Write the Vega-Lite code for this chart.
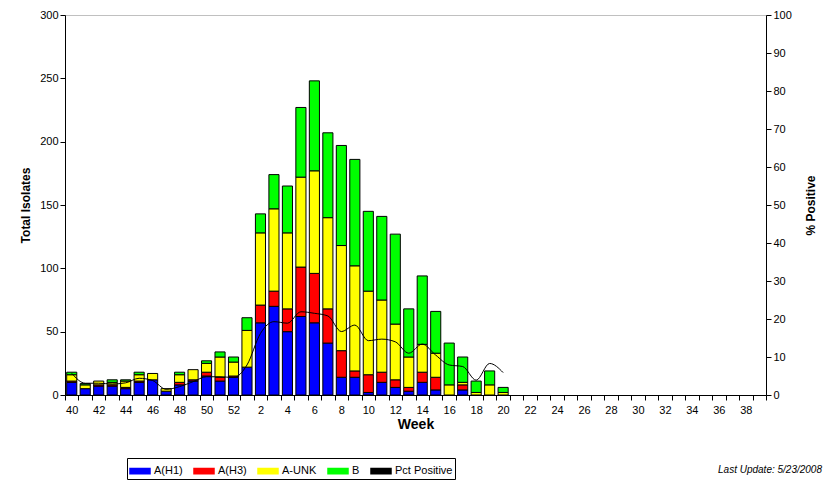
{
  "$schema": "https://vega.github.io/schema/vega-lite/v6.json",
  "width": 701,
  "height": 380,
  "autosize": {"type": "none"},
  "padding": {"left": 65, "top": 15, "right": 65, "bottom": 93},
  "background": "white",
  "title": {"text": "Last Update: 5/23/2008", "orient": "bottom", "anchor": "end", "frame": "group", "fontSize": 10, "fontStyle": "italic", "fontWeight": "normal", "font": "Liberation Sans", "color": "black", "dx": 56, "offset": -15},
  "datasets": {
    "bars": [
      {"week":"40","type":"A(H1)","n":10},{"week":"40","type":"A(H3)","n":1},{"week":"40","type":"A-UNK","n":5},{"week":"40","type":"B","n":2},
      {"week":"41","type":"A(H1)","n":5},{"week":"41","type":"A-UNK","n":3},{"week":"41","type":"B","n":1},
      {"week":"42","type":"A(H1)","n":7},{"week":"42","type":"A(H3)","n":1},{"week":"42","type":"A-UNK","n":3},
      {"week":"43","type":"A(H1)","n":7},{"week":"43","type":"A(H3)","n":1},{"week":"43","type":"A-UNK","n":2},{"week":"43","type":"B","n":2},
      {"week":"44","type":"A(H1)","n":5},{"week":"44","type":"A(H3)","n":1},{"week":"44","type":"A-UNK","n":5},{"week":"44","type":"B","n":1},
      {"week":"45","type":"A(H1)","n":10},{"week":"45","type":"A(H3)","n":1},{"week":"45","type":"A-UNK","n":5},{"week":"45","type":"B","n":2},
      {"week":"46","type":"A(H1)","n":12},{"week":"46","type":"A-UNK","n":5},
      {"week":"47","type":"A(H1)","n":3},{"week":"47","type":"A-UNK","n":2},
      {"week":"48","type":"A(H1)","n":8},{"week":"48","type":"A(H3)","n":2},{"week":"48","type":"A-UNK","n":6},{"week":"48","type":"B","n":2},
      {"week":"49","type":"A(H1)","n":11},{"week":"49","type":"A(H3)","n":1},{"week":"49","type":"A-UNK","n":8},
      {"week":"50","type":"A(H1)","n":15},{"week":"50","type":"A(H3)","n":3},{"week":"50","type":"A-UNK","n":7},{"week":"50","type":"B","n":2},
      {"week":"51","type":"A(H1)","n":11},{"week":"51","type":"A(H3)","n":3},{"week":"51","type":"A-UNK","n":16},{"week":"51","type":"B","n":4},
      {"week":"52","type":"A(H1)","n":14},{"week":"52","type":"A(H3)","n":1},{"week":"52","type":"A-UNK","n":11},{"week":"52","type":"B","n":4},
      {"week":"1","type":"A(H1)","n":22},{"week":"1","type":"A-UNK","n":29},{"week":"1","type":"B","n":10},
      {"week":"2","type":"A(H1)","n":57},{"week":"2","type":"A(H3)","n":14},{"week":"2","type":"A-UNK","n":57},{"week":"2","type":"B","n":15},
      {"week":"3","type":"A(H1)","n":70},{"week":"3","type":"A(H3)","n":12},{"week":"3","type":"A-UNK","n":65},{"week":"3","type":"B","n":27},
      {"week":"4","type":"A(H1)","n":50},{"week":"4","type":"A(H3)","n":18},{"week":"4","type":"A-UNK","n":60},{"week":"4","type":"B","n":37},
      {"week":"5","type":"A(H1)","n":62},{"week":"5","type":"A(H3)","n":39},{"week":"5","type":"A-UNK","n":71},{"week":"5","type":"B","n":55},
      {"week":"6","type":"A(H1)","n":57},{"week":"6","type":"A(H3)","n":39},{"week":"6","type":"A-UNK","n":81},{"week":"6","type":"B","n":71},
      {"week":"7","type":"A(H1)","n":41},{"week":"7","type":"A(H3)","n":27},{"week":"7","type":"A-UNK","n":72},{"week":"7","type":"B","n":67},
      {"week":"8","type":"A(H1)","n":14},{"week":"8","type":"A(H3)","n":21},{"week":"8","type":"A-UNK","n":83},{"week":"8","type":"B","n":79},
      {"week":"9","type":"A(H1)","n":14},{"week":"9","type":"A(H3)","n":5},{"week":"9","type":"A-UNK","n":83},{"week":"9","type":"B","n":84},
      {"week":"10","type":"A(H1)","n":2},{"week":"10","type":"A(H3)","n":14},{"week":"10","type":"A-UNK","n":66},{"week":"10","type":"B","n":63},
      {"week":"11","type":"A(H1)","n":10},{"week":"11","type":"A(H3)","n":8},{"week":"11","type":"A-UNK","n":57},{"week":"11","type":"B","n":66},
      {"week":"12","type":"A(H1)","n":6},{"week":"12","type":"A(H3)","n":6},{"week":"12","type":"A-UNK","n":44},{"week":"12","type":"B","n":71},
      {"week":"13","type":"A(H1)","n":3},{"week":"13","type":"A(H3)","n":3},{"week":"13","type":"A-UNK","n":24},{"week":"13","type":"B","n":38},
      {"week":"14","type":"A(H1)","n":10},{"week":"14","type":"A(H3)","n":8},{"week":"14","type":"A-UNK","n":22},{"week":"14","type":"B","n":54},
      {"week":"15","type":"A(H1)","n":4},{"week":"15","type":"A(H3)","n":10},{"week":"15","type":"A-UNK","n":19},{"week":"15","type":"B","n":33},
      {"week":"16","type":"A-UNK","n":8},{"week":"16","type":"B","n":33},
      {"week":"17","type":"A(H1)","n":4},{"week":"17","type":"A(H3)","n":4},{"week":"17","type":"A-UNK","n":2},{"week":"17","type":"B","n":20},
      {"week":"18","type":"A-UNK","n":2},{"week":"18","type":"B","n":9},
      {"week":"19","type":"A-UNK","n":8},{"week":"19","type":"B","n":11},
      {"week":"20","type":"A-UNK","n":2},{"week":"20","type":"B","n":4}
    ],
    "pct": [
      {"week":"40","pct":5.7},{"week":"41","pct":3.1},{"week":"42","pct":3.1},{"week":"43","pct":2.9},{"week":"44","pct":3.2},
      {"week":"45","pct":4.4},{"week":"46","pct":3.8},{"week":"47","pct":1.5},{"week":"48","pct":2.2},{"week":"49","pct":3.5},
      {"week":"50","pct":4.8},{"week":"51","pct":4.8},{"week":"52","pct":4.6},{"week":"1","pct":7.9},{"week":"2","pct":16.2},
      {"week":"3","pct":19.3},{"week":"4","pct":18.9},{"week":"5","pct":21.9},{"week":"6","pct":21.5},{"week":"7","pct":20.8},
      {"week":"8","pct":16.7},{"week":"9","pct":18.4},{"week":"10","pct":14.3},{"week":"11","pct":14.7},{"week":"12","pct":14.0},
      {"week":"13","pct":11.0},{"week":"14","pct":13.4},{"week":"15","pct":10.5},{"week":"16","pct":7.9},{"week":"17","pct":7.5},
      {"week":"18","pct":3.9},{"week":"19","pct":8.3},{"week":"20","pct":5.9}
    ]
  },
  "encoding": {
    "x": {
      "field": "week", "type": "nominal",
      "scale": {"type": "band", "paddingInner": 0, "paddingOuter": 0,
        "domain": ["40","41","42","43","44","45","46","47","48","49","50","51","52","1","2","3","4","5","6","7","8","9","10","11","12","13","14","15","16","17","18","19","20","21","22","23","24","25","26","27","28","29","30","31","32","33","34","35","36","37","38","39"]},
      "axis": {"title": "Week", "titleFontSize": 14, "titlePadding": 2, "labelAngle": 0, "tickBand": "extent", "labelExpr": "parseInt(datum.value) % 2 == 0 ? datum.value : ''", "labelPadding": 4}
    }
  },
  "layer": [
    {
      "data": {"name": "bars"},
      "mark": {"type": "bar", "width": {"band": 0.75}, "stroke": "black", "strokeWidth": 1},
      "encoding": {
        "y": {"field": "n", "type": "quantitative", "stack": "zero",
          "scale": {"domain": [0, 300], "nice": false},
          "axis": {"title": "Total Isolates", "values": [0,50,100,150,200,250,300], "titlePadding": 7}},
        "color": {"field": "type", "type": "nominal",
          "scale": {"domain": ["A(H1)","A(H3)","A-UNK","B","Pct Positive"], "range": ["#0000FF","#FF0000","#FFFF00","#00FF00","#000000"]},
          "legend": {
            "title": null, "orient": "none", "direction": "horizontal", "columns": 5,
            "legendX": 62, "legendY": 443,
            "strokeColor": "black", "padding": 2, "fillColor": "white",
            "columnPadding": 8, "symbolSize": 400, "labelFontSize": 11, "labelOffset": 3, "labelColor": "black",
            "symbolType": "M-1,-0.26H1V0.26H-1Z"
          }},
        "order": {"field": "type", "sort": "ascending"}
      }
    },
    {
      "data": {"name": "pct"},
      "mark": {"type": "line", "interpolate": "monotone", "strokeWidth": 1},
      "encoding": {
        "y": {"field": "pct", "type": "quantitative",
          "scale": {"domain": [0, 100], "nice": false},
          "axis": {"orient": "right", "title": "% Positive", "values": [0,10,20,30,40,50,60,70,80,90,100], "titleAngle": 270, "titlePadding": 26}},
        "color": {"datum": "Pct Positive", "type": "nominal", "legend": null}
      }
    }
  ],
  "resolve": {"scale": {"y": "independent"}},
  "config": {
    "font": "Liberation Sans",
    "view": {"stroke": "#c0c0c0"},
    "axis": {"domainColor": "black", "tickColor": "black", "labelColor": "black", "titleColor": "black", "labelFontSize": 11, "titleFontSize": 12, "titleFontWeight": "bold", "grid": false, "tickSize": 5, "labelPadding": 2, "labelFont": "Liberation Sans", "titleFont": "Liberation Sans"},
    "legend": {"labelFont": "Liberation Sans"}
  }
}
